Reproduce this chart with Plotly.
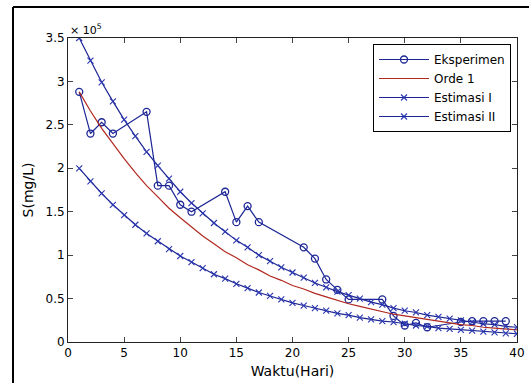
import plotly.graph_objects as go

# Data (S in units of 10^5 mg/L)
days_exp = [1, 2, 3, 4, 7, 8, 9, 10, 11, 14, 15, 16, 17, 21, 22, 23, 24, 25, 28,
            29, 30, 31, 32, 35, 36, 37, 38, 39]
s_exp = [2.88, 2.40, 2.53, 2.40, 2.65, 1.80, 1.80, 1.58, 1.50, 1.73, 1.38, 1.565,
         1.38, 1.09, 0.96, 0.72, 0.60, 0.49, 0.49, 0.30, 0.19, 0.22, 0.17, 0.23,
         0.24, 0.24, 0.24, 0.24]

days_model = list(range(1, 41))
s_orde1 = [2.88, 2.66, 2.46, 2.28, 2.11, 1.95, 1.80, 1.67, 1.54, 1.43, 1.32, 1.22,
           1.13, 1.04, 0.97, 0.89, 0.83, 0.76, 0.71, 0.65, 0.61, 0.56, 0.52, 0.48,
           0.44, 0.41, 0.38, 0.35, 0.32, 0.30, 0.28, 0.26, 0.24, 0.22, 0.20, 0.19,
           0.17, 0.16, 0.15, 0.14]
s_est1 = [2.00, 1.85, 1.71, 1.58, 1.46, 1.35, 1.25, 1.16, 1.07, 0.99, 0.92, 0.85,
          0.78, 0.73, 0.67, 0.62, 0.57, 0.53, 0.49, 0.45, 0.42, 0.39, 0.36, 0.33,
          0.31, 0.28, 0.26, 0.24, 0.23, 0.21, 0.19, 0.18, 0.16, 0.15, 0.14, 0.13,
          0.12, 0.11, 0.10, 0.095]
s_est2 = [3.50, 3.24, 2.99, 2.77, 2.56, 2.37, 2.19, 2.03, 1.88, 1.73, 1.60, 1.48,
          1.37, 1.27, 1.17, 1.09, 1.00, 0.93, 0.86, 0.80, 0.74, 0.68, 0.63, 0.58,
          0.54, 0.50, 0.46, 0.43, 0.39, 0.36, 0.34, 0.31, 0.29, 0.27, 0.25, 0.23,
          0.21, 0.20, 0.18, 0.17]

x_ticks = [0, 5, 10, 15, 20, 25, 30, 35, 40]
y_ticks = [0, 0.5, 1, 1.5, 2, 2.5, 3, 3.5]
y_ticktext = ["0", "0.5", "1", "1.5", "2", "2.5", "3", "3.5"]

BLUE = "#1c2694"
BLUE2 = "#2a36b0"
RED = "#b0281e"
FONT = "DejaVu Sans"

fig = go.Figure()
fig.add_trace(go.Scatter(
    x=days_exp, y=s_exp, mode="lines+markers", name="Eksperimen",
    line=dict(color=BLUE, width=1.2),
    marker=dict(symbol="circle-open", size=7, color=BLUE, line=dict(width=1.3))))
fig.add_trace(go.Scatter(
    x=days_model, y=s_orde1, mode="lines", name="Orde 1",
    line=dict(color=RED, width=1.2)))
fig.add_trace(go.Scatter(
    x=days_model, y=s_est1, mode="lines+markers", name="Estimasi I",
    line=dict(color=BLUE, width=1.2),
    marker=dict(symbol="x-thin-open", size=6, color=BLUE2, line=dict(width=1.1, color=BLUE2))))
fig.add_trace(go.Scatter(
    x=days_model, y=s_est2, mode="lines+markers", name="Estimasi II",
    line=dict(color=BLUE, width=1.2),
    marker=dict(symbol="x-thin-open", size=6, color=BLUE2, line=dict(width=1.1, color=BLUE2))))

W, H = 529, 383
L, R, T, B = 68, 12, 38, 41
pw, ph = W - L - R, H - T - B

def px_x(px):
    return (px - L) / pw

def px_y(py):
    return (H - B - py) / ph

fig.update_layout(
    width=W, height=H,
    margin=dict(l=L, r=R, t=T, b=B, autoexpand=False),
    paper_bgcolor="white", plot_bgcolor="white",
    font=dict(family=FONT, size=12, color="black"),
    showlegend=True,
    legend=dict(x=px_x(373), y=px_y(44), xanchor="left", yanchor="top",
                bgcolor="white", bordercolor="black", borderwidth=1,
                font=dict(family=FONT, size=12, color="black"),
                tracegroupgap=0, itemwidth=50),
    xaxis=dict(range=[0, 40], tickvals=x_ticks, ticks="inside", ticklen=5,
               showline=True, linecolor="#222", linewidth=1, mirror="ticks",
               showgrid=False, zeroline=False, tickfont=dict(size=12),
               automargin=False,
               title=dict(text="Waktu(Hari)", font=dict(size=14), standoff=6)),
    yaxis=dict(range=[0, 3.5], tickvals=y_ticks, ticktext=y_ticktext,
               ticks="inside", ticklen=5,
               showline=True, linecolor="#222", linewidth=1, mirror="ticks",
               showgrid=False, zeroline=False, tickfont=dict(size=12),
               automargin=False,
               title=dict(text="S(mg/L)", font=dict(size=14), standoff=8)),
)

fig.add_annotation(xref="paper", yref="paper", x=px_x(68), y=px_y(30),
                   xanchor="left", yanchor="middle", showarrow=False,
                   text="× 10<sup>5</sup>", font=dict(family=FONT, size=11))

# outer figure frame (left and top edges visible)
fig.add_shape(type="line", xref="paper", yref="paper",
              x0=px_x(13), x1=px_x(13), y0=px_y(7), y1=px_y(390),
              line=dict(color="black", width=2))
fig.add_shape(type="line", xref="paper", yref="paper",
              x0=px_x(13), x1=px_x(535), y0=px_y(7), y1=px_y(7),
              line=dict(color="black", width=2))

fig.write_html("out.html")
